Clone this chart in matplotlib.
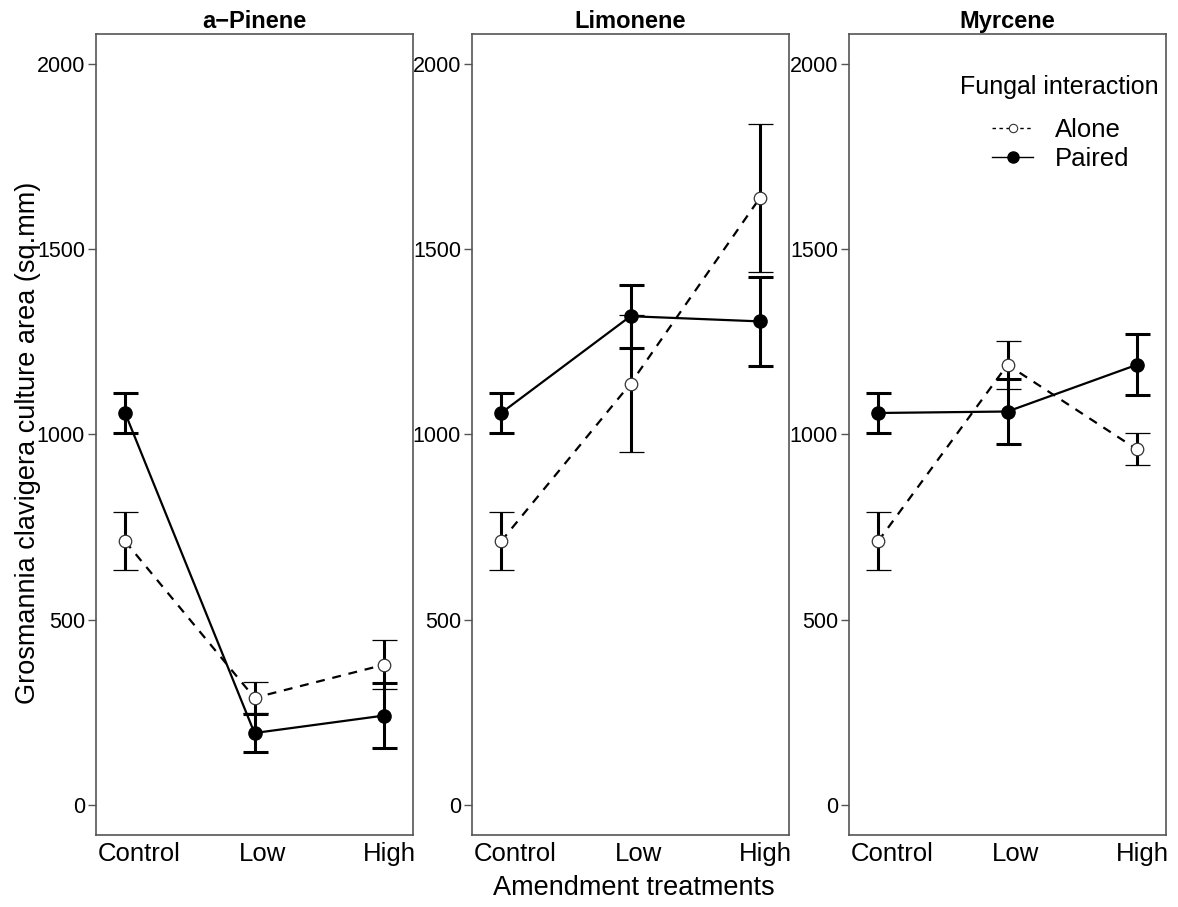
import matplotlib
matplotlib.use("Agg")
import matplotlib.pyplot as plt
from matplotlib.lines import Line2D
from matplotlib.transforms import ScaledTranslation
import numpy as np

plt.rcParams['font.family'] = ['Liberation Sans', 'DejaVu Sans']

# data
treatments = ["Control", "Low", "High"]
terpenes = ["a\u2212Pinene", "Limonene", "Myrcene"]

alone_mean = {"a\u2212Pinene": [712, 290, 379],
              "Limonene": [712, 1137, 1638],
              "Myrcene": [712, 1188, 960]}
alone_se = {"a\u2212Pinene": [78, 42, 66],
            "Limonene": [78, 185, 200],
            "Myrcene": [78, 64, 43]}
paired_mean = {"a\u2212Pinene": [1058, 195, 242],
               "Limonene": [1058, 1319, 1305],
               "Myrcene": [1058, 1062, 1188]}
paired_se = {"a\u2212Pinene": [53, 50, 87],
             "Limonene": [53, 85, 119],
             "Myrcene": [53, 87, 82]}
yticks = [0, 500, 1000, 1500, 2000]

W, H = 1178, 907
fig = plt.figure(figsize=(W / 100, H / 100), dpi=100)

lefts = [96, 472, 849]
pw = 317
top, bottom = 34, 835
frame_col = '#555555'
label_shift = [14, 8, 5]  # px, x tick labels sit a bit right of the points

x = np.arange(1, len(treatments) + 1)
axes = []
for left, name in zip(lefts, terpenes):
    ax = fig.add_axes([left / W, 1 - bottom / H, pw / W, (bottom - top) / H])
    axes.append(ax)

    # Alone: dashed, open circles
    ax.errorbar(x, alone_mean[name], yerr=alone_se[name], color='black',
                linestyle=(0, (4, 3.5)), linewidth=1.6, elinewidth=2.2,
                capsize=9, capthick=2.2, marker='o', markersize=9,
                markerfacecolor='white', markeredgecolor='#333333',
                markeredgewidth=0.9, zorder=3)
    # Paired: solid, filled circles
    ax.errorbar(x, paired_mean[name], yerr=paired_se[name], color='black',
                linestyle='-', linewidth=1.6, elinewidth=2.2,
                capsize=9, capthick=2.2, marker='o', markersize=9.5,
                markerfacecolor='black', markeredgecolor='black', zorder=4)

    ax.set_xlim(0.775, 3.225)
    ax.set_ylim(-80, 2080)
    ax.set_xticks(x)
    ax.set_xticklabels([])
    ax.tick_params(axis='x', length=0)
    # category labels, nudged right like in the original
    for xi, lab, dx in zip(x, treatments, label_shift):
        ax.text(xi, 0, lab, fontsize=18.5, ha='center', va='center',
                transform=ax.get_xaxis_transform() +
                ScaledTranslation(dx / 100, -19 / 100, fig.dpi_scale_trans))
    ax.set_yticks(yticks)
    ax.set_yticklabels([str(v) for v in yticks], fontsize=15.5)
    ax.tick_params(axis='y', length=6, width=1, color=frame_col, pad=2)
    for s in ax.spines.values():
        s.set_color(frame_col)
        s.set_linewidth(1.2)
    ax.set_title(name, fontsize=17, fontweight='bold', pad=4)

fig.text(634 / W, 1 - 888 / H, "Amendment treatments", fontsize=19.5,
         ha='center', va='center')
fig.text(28 / W, 1 - 443 / H, "Grosmannia clavigera culture area (sq.mm)",
         fontsize=19.5, ha='center', va='center', rotation=90)

# legend, title drawn separately for the wider gap
fig.text(1059 / W, 1 - 87 / H, "Fungal interaction", fontsize=18,
         ha='center', va='center')
handles = [
    Line2D([], [], color='black', linestyle=(0, (2.5, 2.5)), linewidth=1,
           marker='o', markersize=6, markerfacecolor='white',
           markeredgecolor='#333333', markeredgewidth=0.8),
    Line2D([], [], color='black', linestyle='-', linewidth=1,
           marker='o', markersize=8, markerfacecolor='black'),
]
leg = fig.legend(handles, ["Alone", "Paired"],
                 loc='upper left', bbox_to_anchor=(992 / W, 1 - 118 / H),
                 frameon=False, fontsize=18.5,
                 handlelength=1.6, handletextpad=0.85, labelspacing=0.2,
                 borderpad=0, borderaxespad=0)

fig.savefig("out.png", dpi=100)
